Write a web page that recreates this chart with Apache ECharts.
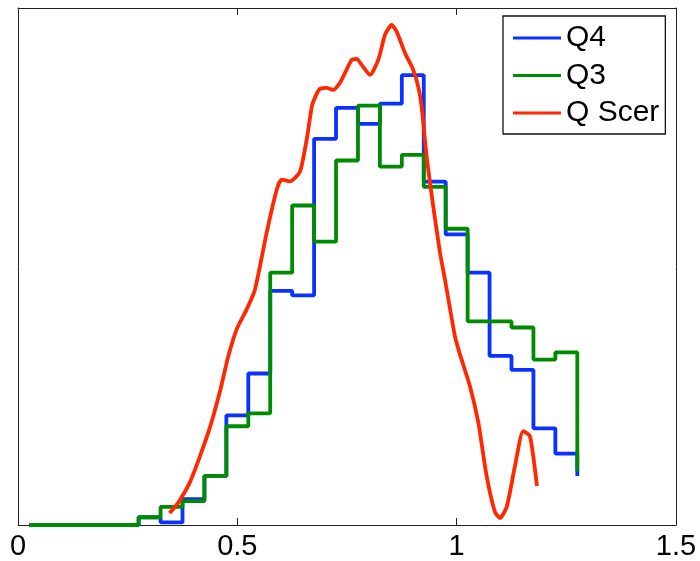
<!DOCTYPE html>
<html>
<head>
<meta charset="utf-8">
<script src="https://cdn.jsdelivr.net/npm/echarts@6/dist/echarts.min.js"></script>
<style>
html,body{margin:0;padding:0;background:#fff;}
#chart{width:700px;height:561px;}
</style>
</head>
<body>
<div id="chart"></div>
<script>
// Histogram bin left edges (bin width 0.05) and the final right edge
var binEdges = [0.025, 0.075, 0.125, 0.175, 0.225, 0.275, 0.325, 0.375, 0.425, 0.475,
                0.525, 0.575, 0.625, 0.675, 0.725, 0.775, 0.825, 0.875, 0.925, 0.975,
                1.025, 1.075, 1.125, 1.175, 1.225];
var lastEdge = 1.275;

// Q4 (blue) step values per bin, plus end value
var q4Values = [0, 0, 0, 0, 0, 1.5, 0.5, 5.0, 9.5, 21.2,
                29.3, 45.3, 44.4, 74.7, 80.7, 77.6, 81.5, 87.0, 66.4, 56.2,
                48.8, 32.7, 30.0, 18.7, 13.8];
var q4End = 9.5;

// Q3 (green) step values per bin, plus end value
var q3Values = [0, 0, 0, 0, 0, 1.5, 3.5, 4.6, 9.5, 19.1,
                21.6, 48.8, 61.8, 54.8, 70.5, 81.1, 69.3, 71.6, 65.4, 57.3,
                39.4, 39.4, 38.2, 32.0, 33.4];
var q3End = 10.4;

// Q Scer (red) smooth curve
var scerX = [0.3453, 0.3579, 0.3693, 0.3921, 0.4149, 0.4377, 0.4605, 0.4794, 0.4985, 0.5213,
             0.5402, 0.5669, 0.5897, 0.6011, 0.6200, 0.6428, 0.6588, 0.6702, 0.6809, 0.6884,
             0.7037, 0.7187, 0.7340, 0.7607, 0.7721, 0.7835, 0.8024, 0.8213, 0.8366, 0.8518,
             0.8632, 0.8822, 0.9011, 0.9125, 0.9202, 0.9316, 0.9467, 0.9619, 0.9733, 0.9961,
             1.0075, 1.0303, 1.0492, 1.0684, 1.0873, 1.0987, 1.1140, 1.1329, 1.1518, 1.1671,
             1.1830];
var scerY = [2.32, 3.47, 4.83, 8.30, 13.32, 18.92, 25.87, 32.63, 37.84, 41.70,
             45.56, 56.56, 64.86, 66.80, 66.47, 68.34, 74.90, 81.08, 83.40, 84.36,
             84.56, 84.17, 85.52, 89.96, 90.15, 89.00, 87.07, 89.96, 94.79, 96.72,
             95.42, 91.31, 88.03, 84.75, 80.89, 71.24, 61.58, 52.70, 47.49, 36.49,
             33.01, 26.83, 19.88, 9.46, 2.51, 1.35, 3.47, 11.39, 18.15, 17.18,
             7.53];

var xTicks = [0, 0.5, 1, 1.5];
var seriesNames = ['Q4', 'Q3', 'Q Scer'];

function stepData(values, endVal) {
  var d = binEdges.map(function (x, i) { return [x, values[i]]; });
  d.push([lastEdge, endVal]);
  return d;
}
var scerData = scerX.map(function (x, i) { return [x, scerY[i]]; });

var chart = echarts.init(document.getElementById('chart'), null, {renderer: 'canvas'});
var axisLineStyle = {color: '#222', width: 1};
var fontFam = '"Liberation Sans", Arial, Helvetica, sans-serif';

chart.setOption({
  animation: false,
  backgroundColor: '#fff',
  grid: {left: 18, right: 24, top: 8, bottom: 35, containLabel: false},
  xAxis: [{
    type: 'value', min: xTicks[0], max: xTicks[xTicks.length - 1], interval: 0.5,
    position: 'bottom',
    axisLine: {show: true, lineStyle: axisLineStyle},
    axisTick: {show: true, inside: true, length: 7, lineStyle: axisLineStyle},
    axisLabel: {show: true, color: '#000', fontSize: 29, fontFamily: fontFam, margin: 7,
      formatter: function (v) { return String(v); }},
    splitLine: {show: false}
  }, {
    type: 'value', min: xTicks[0], max: xTicks[xTicks.length - 1], interval: 0.5,
    position: 'top',
    axisLine: {show: true, onZero: false, lineStyle: axisLineStyle},
    axisTick: {show: true, inside: true, length: 7, lineStyle: axisLineStyle},
    axisLabel: {show: false},
    splitLine: {show: false}
  }],
  yAxis: [{
    type: 'value', min: 0, max: 100, position: 'left',
    axisLine: {show: true, onZero: false, lineStyle: axisLineStyle},
    axisTick: {show: false}, axisLabel: {show: false}, splitLine: {show: false}
  }, {
    type: 'value', min: 0, max: 100, position: 'right',
    axisLine: {show: true, onZero: false, lineStyle: axisLineStyle},
    axisTick: {show: false}, axisLabel: {show: false}, splitLine: {show: false}
  }],
  legend: {
    data: seriesNames,
    orient: 'vertical',
    left: 503, top: 16,
    padding: [7, 6, 6, 10],
    itemWidth: 48, itemHeight: 30, itemGap: 7.5,
    backgroundColor: '#fff',
    borderColor: '#111', borderWidth: 1.3,
    textStyle: {color: '#000', fontSize: 30, fontFamily: fontFam, lineHeight: 30},
    icon: 'path://M0,13.5 L48,13.5 L48,16.5 L0,16.5 Z'
  },
  series: [{
    name: seriesNames[0], type: 'line', step: 'end', data: stepData(q4Values, q4End),
    showSymbol: false, symbol: 'none',
    lineStyle: {color: '#0a32ff', width: 3.8}, itemStyle: {color: '#0a32ff'}, z: 2
  }, {
    name: seriesNames[1], type: 'line', step: 'end', data: stepData(q3Values, q3End),
    showSymbol: false, symbol: 'none',
    lineStyle: {color: '#008c00', width: 3.8}, itemStyle: {color: '#008c00'}, z: 3
  }, {
    name: seriesNames[2], type: 'line', smooth: 0.2, data: scerData,
    showSymbol: false, symbol: 'none',
    lineStyle: {color: '#ff2800', width: 3.8}, itemStyle: {color: '#ff2800'}, z: 4
  }]
});
</script>
</body>
</html>
